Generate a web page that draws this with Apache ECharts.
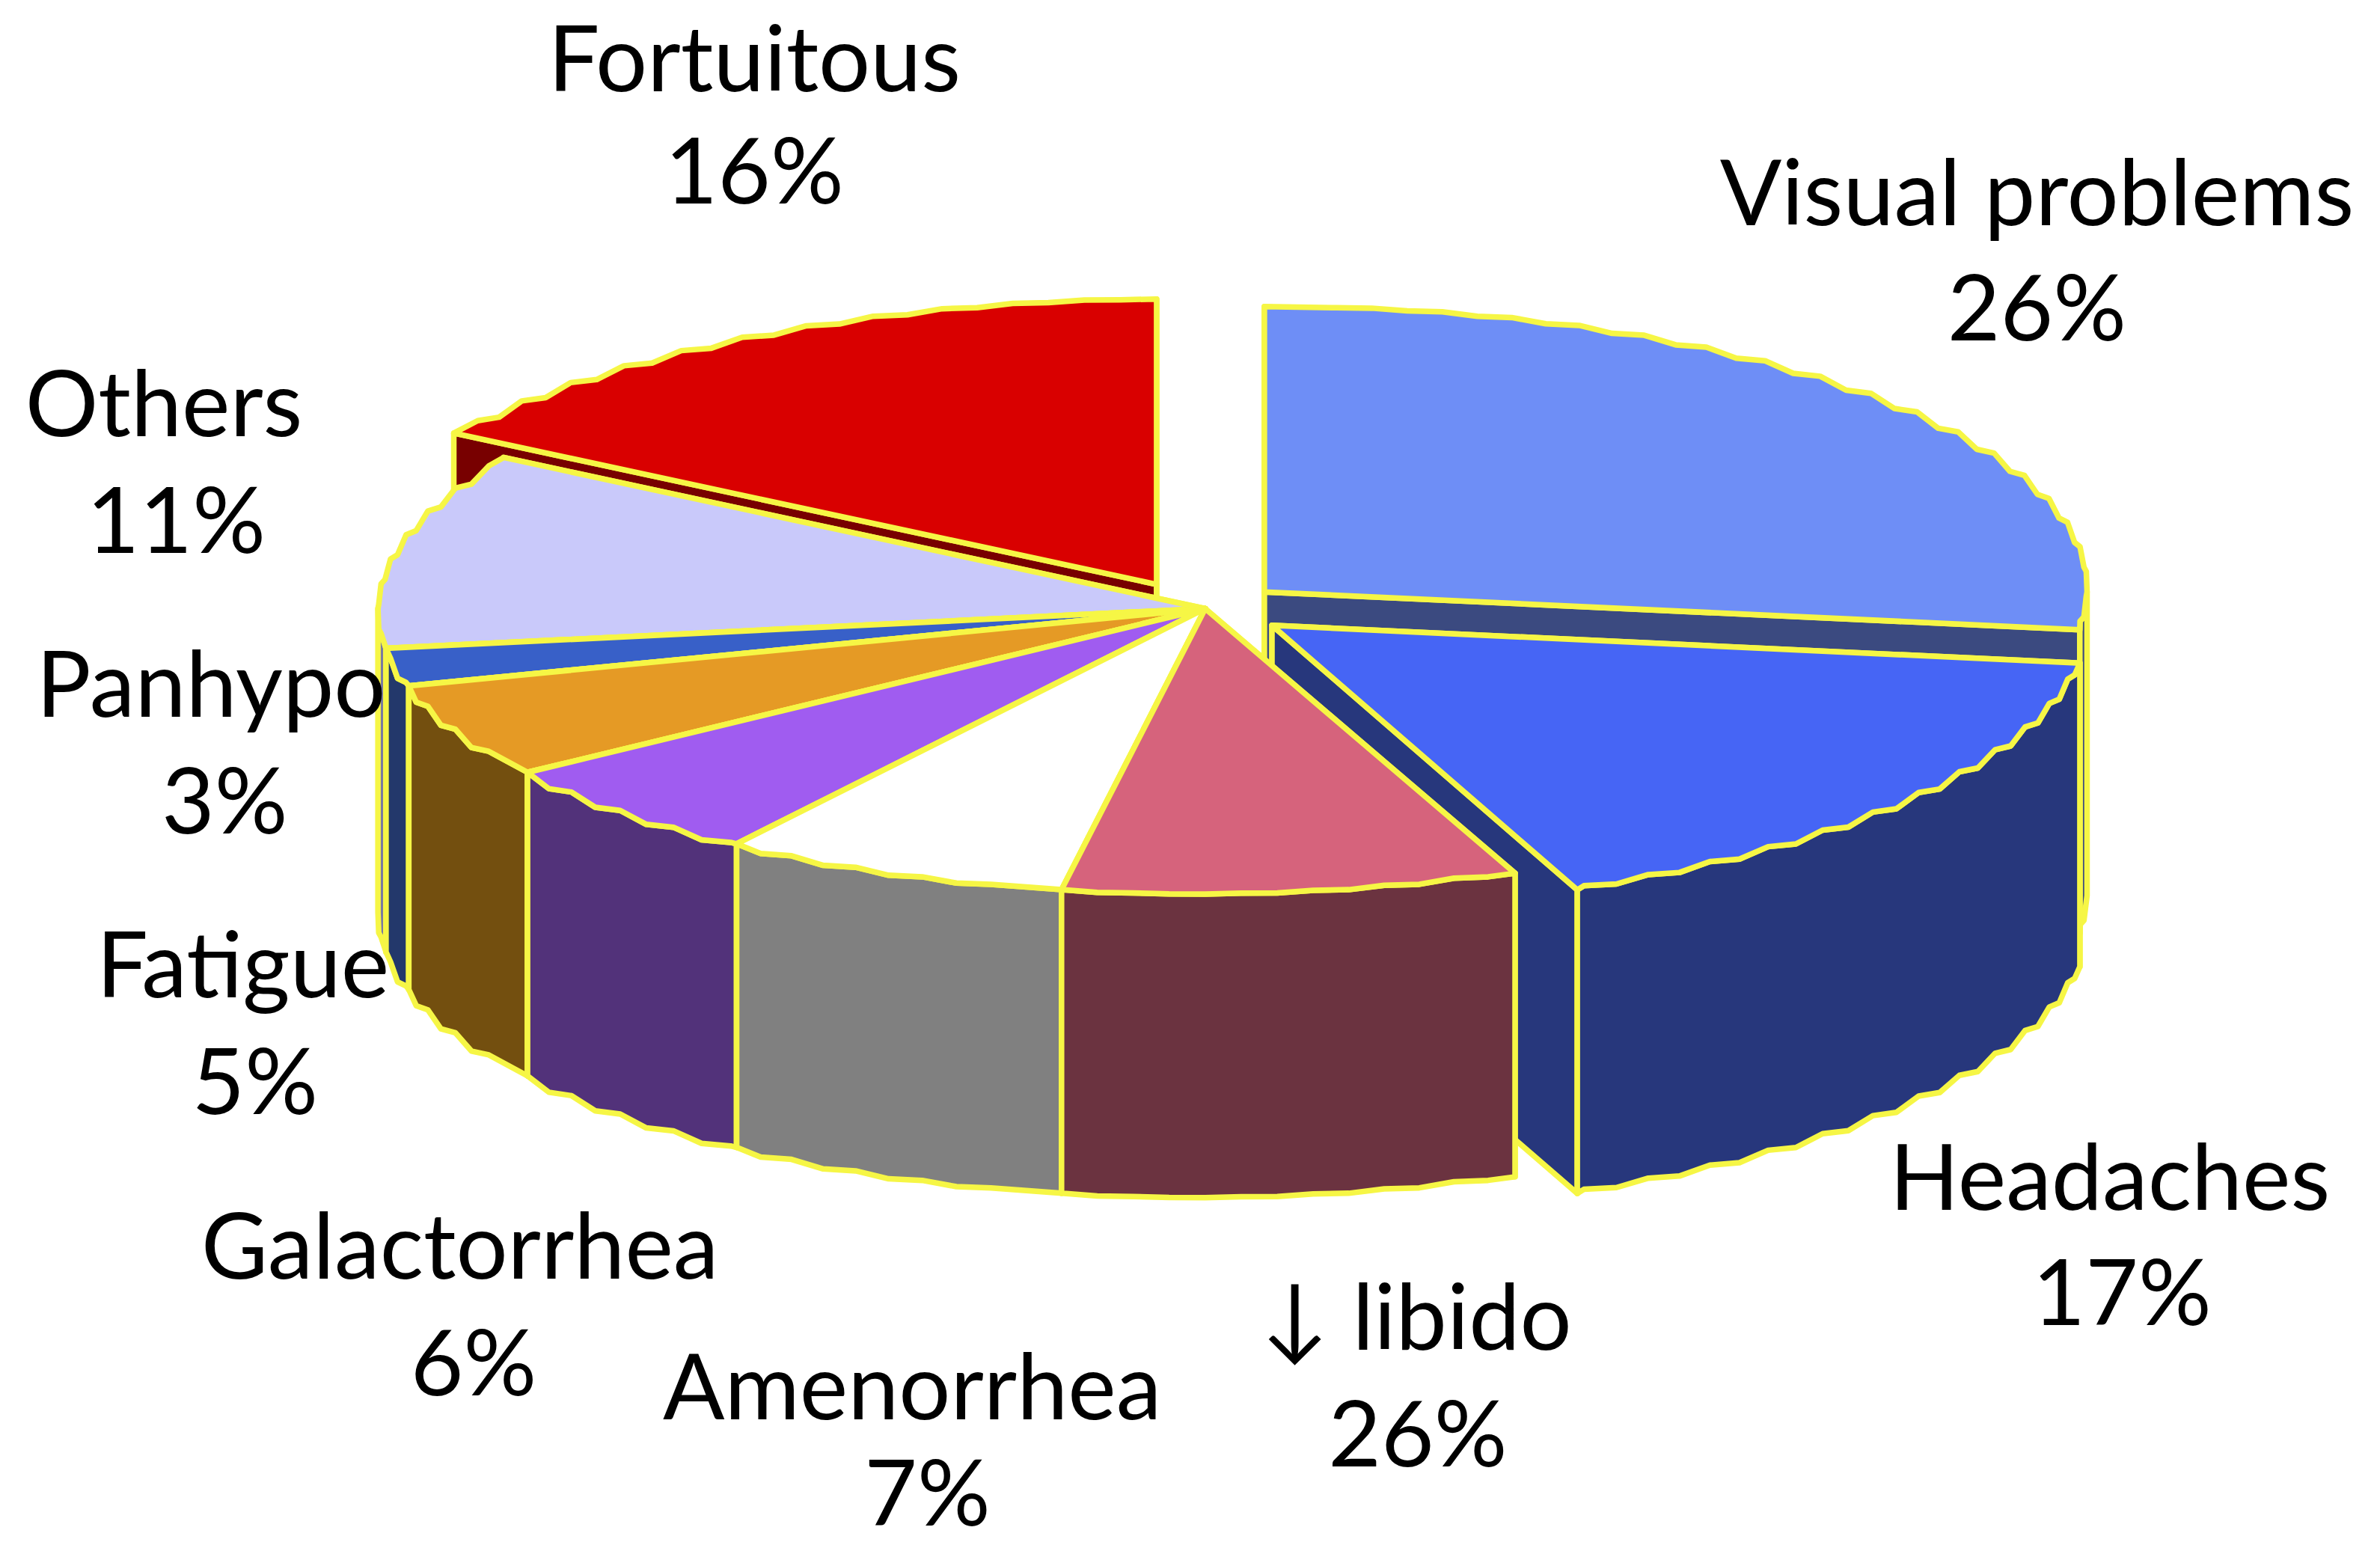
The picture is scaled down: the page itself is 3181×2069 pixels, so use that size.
<!DOCTYPE html>
<html><head><meta charset="utf-8">
<style>html,body{margin:0;padding:0;background:#fff}#c{width:3181px;height:2069px}
#c text{font-variant-ligatures:none;font-feature-settings:"liga" 0,"clig" 0}</style>
<script src="https://cdn.jsdelivr.net/npm/echarts@6/dist/echarts.min.js"></script>
</head><body><div id="c"></div>
<script>
// Clockwise from the top of the pie
const categories = ['Visual problems','Headaches','↓ libido','Amenorrhea','Galactorrhea','Fatigue','Panhypo','Others','Fortuitous'];
const printedPercent = [26,17,26,7,6,5,3,11,16];
// Angle each slice actually occupies in the picture, in degrees
const sliceDegrees = [97.6,60.4,32,24.5,20.5,19.3,7.7,40,58];

// Styles and layout (in units of the 1568-wide view)
const topColors  = ['#6e8ef6','#4665f5','#d6637c','#ffffff','#a05cf0','#e59a25','#3860c8','#c9c9fa','#d90000'];
const sideColors = ['#3b4a80','#27377c','#6b3340','#808080','#52327a','#734f0f','#23386b','#7a7aa0','#780000'];
const paintOrder = [0,8,7,6,5,4,3,1,2];
const S = 3181/1568;
const centre = [795,400], ry = 188, depth = 200;
const sliceShift = [[38,-10,542],[43,12,537],[-1,1,545],[-1,1,545],[-1,1,545],[-1,1,545],[-1,1,545],[-1,1,545],[-33,-15,546]];
const nameAt = [[1342,125],[1390,774],[933,866],[601,912],[303,819],[160,634],[139,449],[108,264],[497,37]];
const pctAt  = [[1342,201],[1398,850],[934,943],[611,982],[312,896],[168,711],[148,526],[116,341],[497,111]];
const YEL = '#f6f645', LW = 7.5, FONT = 'Lato, "DejaVu Sans", sans-serif', FS = 122;

const starts = []; sliceDegrees.reduce((a,d,i)=>(starts[i]=a,a+d),0);
const sData = categories.map((c,i)=>({name:c,value:[starts[i],sliceDegrees[i],printedPercent[i]]}));

function arcS(ax,ay,rx,ryp,t0,t1){
  const P=t=>{const r=t*Math.PI/180;return [ax+rx*Math.sin(r),ay-ryp*Math.cos(r)]};
  const pts=[P(t0)], D=5;
  for(let k=Math.floor(t0/D)+1;k*D<t1;k++){
    const a=P(k*D), m=P(k*D+0.5*D);
    pts.push(a);
    if(k*D+0.5*D<t1) pts.push([m[0],a[1]+(m[1]-a[1])*0.35]);
  }
  pts.push(P(t1));
  return pts;
}
function renderItem(params,api){
  const i=params.dataIndex, t0=api.value(0), sweep=api.value(1), t1=t0+sweep;
  const sh=sliceShift[i], ax=(centre[0]+sh[0])*S, ay=(centre[1]+sh[1])*S, rx=sh[2]*S, ryp=ry*S, dp=depth*S;
  const z=paintOrder.indexOf(i)*10+1;
  const ch=[];
  const poly=(pts,fill,zz)=>ch.push({type:'polygon',z2:zz,shape:{points:pts},style:{fill:fill,stroke:YEL,lineWidth:LW,lineJoin:'round'}});
  const ptAt=t=>{const r=t*Math.PI/180;return [ax+rx*Math.sin(r),ay-ryp*Math.cos(r)]};
  [t0,t1].forEach(t=>{
    const p=ptAt(t);
    poly([[ax,ay],p,[p[0],p[1]+dp],[ax,ay+dp]],sideColors[i],z);
  });
  const a=Math.max(t0,90), b=Math.min(t1,270);
  if(b>a){
    const top=arcS(ax,ay,rx,ryp,a,b);
    const bot=top.slice().reverse().map(q=>[q[0],q[1]+dp]);
    poly(top.concat(bot),sideColors[i],z+1);
  }
  poly([[ax,ay]].concat(arcS(ax,ay,rx,ryp,t0,t1)),topColors[i],z+2);
  const txt=(s,p)=>ch.push({type:'text',z2:500,style:{text:s,x:p[0]*S,y:p[1]*S,align:'center',verticalAlign:'middle',fill:'#000',font:FS+'px '+FONT}});
  txt(categories[i],nameAt[i]);
  txt(api.value(2)+'%',pctAt[i]);
  return {type:'group',children:ch};
}
const chart=echarts.init(document.getElementById('c'),null,{renderer:'svg'});
chart.setOption({
  backgroundColor:'#fff',animation:false,
  series:[{type:'custom',coordinateSystem:'none',clip:false,silent:true,renderItem:renderItem,data:sData}]
});
</script></body></html>
